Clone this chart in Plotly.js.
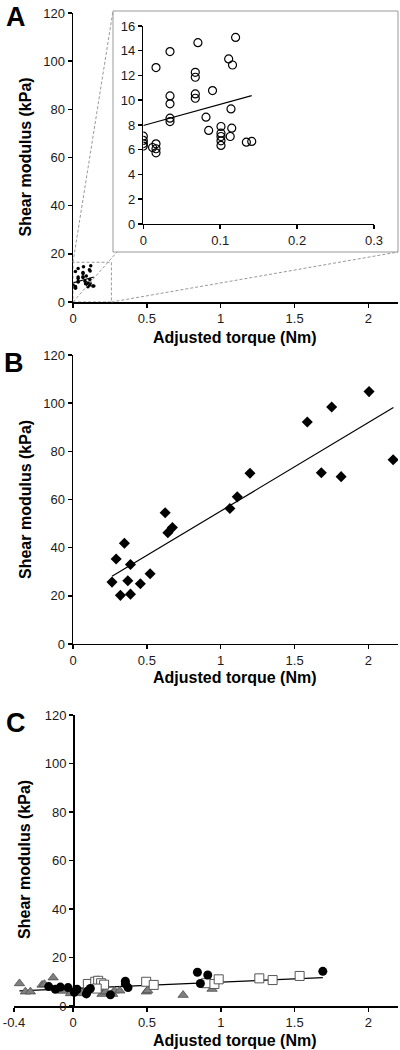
<!DOCTYPE html>
<html><head><meta charset="utf-8">
<script src="https://cdn.plot.ly/plotly-3.0.1.min.js"></script>
<style>html,body{margin:0;padding:0;background:#fff}#chart{width:400px;height:1050px}</style>
</head><body><div id="chart"></div>
<script>
// ---------- Panel A (data shown in main plot and in the zoomed inset) ----------
const aTorque  = [0, 0, 0, 0, 0.012, 0.0165, 0.0165, 0.0165, 0.0165, 0.0347, 0.0347, 0.0347, 0.0347, 0.0347,
                  0.0676, 0.0676, 0.0676, 0.0676, 0.071, 0.0815, 0.085, 0.090, 0.101, 0.101, 0.101, 0.101, 0.101,
                  0.111, 0.116, 0.120, 0.114, 0.115, 0.113, 0.134, 0.141];
const aModulus = [7.1, 6.75, 6.5, 6.3, 6.18, 6.48, 6.08, 5.75, 12.64, 13.93, 10.35, 9.71, 8.55, 8.28,
                  12.26, 11.86, 10.51, 10.16, 14.65, 8.63, 7.56, 10.78, 7.88, 7.34, 7.07, 6.72, 6.35,
                  13.34, 12.85, 15.08, 9.3, 7.74, 7.07, 6.61, 6.67];
const aFitX = [0, 0.141];
const aFitY = [7.96, 10.38];

// ---------- Panel B ----------
const bTorque  = [0.264, 0.292, 0.321, 0.348, 0.371, 0.389, 0.389, 0.456, 0.522, 0.624, 0.642, 0.673,
                  1.062, 1.112, 1.198, 1.586, 1.681, 1.751, 1.815, 2.004, 2.167];
const bModulus = [25.7, 35.3, 20.2, 41.8, 26.3, 33.0, 20.7, 25.0, 29.2, 54.5, 46.2, 48.4,
                  56.3, 61.1, 70.9, 92.2, 71.1, 98.4, 69.5, 104.8, 76.5];
const bFitX = [0.264, 2.169];
const bFitY = [28.1, 98.2];

// ---------- Panel C ----------
const cCircleX = [-0.165, -0.12, -0.086, -0.034, 0.009, 0.027, 0.09, 0.099, 0.117, 0.253, 0.354, 0.354, 0.372,
                  0.842, 0.862, 0.912, 1.691];
const cCircleY = [8.0, 6.9, 7.8, 7.6, 5.6, 6.9, 5.0, 6.2, 7.2, 4.6, 10.2, 9.1, 7.6, 13.9, 9.3, 12.8, 14.3];
const cSquareX = [0.10, 0.15, 0.17, 0.19, 0.21, 0.16, 0.495, 0.546, 0.90, 0.957, 0.986, 1.261, 1.351, 1.534];
const cSquareY = [9.1, 10.0, 10.4, 9.4, 8.8, 7.2, 10.0, 8.7, 9.4, 9.1, 11.0, 11.4, 10.7, 12.4];
const cTriX = [-0.363, -0.323, -0.289, -0.21, -0.194, -0.135, -0.068, -0.018, 0.068, 0.167, 0.19, 0.196,
               0.219, 0.268, 0.28, 0.316, 0.496, 0.505, 0.745, 0.941];
const cTriY = [9.3, 5.9, 5.9, 8.7, 9.0, 11.7, 6.2, 5.2, 5.2, 10.6, 7.3, 4.9, 5.9, 4.9, 6.3, 6.3, 5.9, 6.4, 4.5, 7.0];
const cFitX = [-0.363, 1.691];
const cFitY = [6.2, 11.7];

// ---------- ticks & labels ----------
const yTicks = [0, 20, 40, 60, 80, 100, 120];
const mainXTicks = [0, 0.5, 1, 1.5, 2];
const mainXText = ['0', '0.5', '1', '1.5', '2'];
const cXTicks = [-0.4, 0, 0.5, 1, 1.5, 2];
const cXText = ['-0.4', '0', '0.5', '1', '1.5', '2'];
const insetXTicks = [0, 0.1, 0.2, 0.3];
const insetXText = ['0', '0.1', '0.2', '0.3'];
const insetYTicks = [0, 2, 4, 6, 8, 10, 12, 14, 16];
const zoomBox = {x: [0, 0.26], y: [0, 16.5]};
const xTitle = 'Adjusted torque (Nm)';
const yTitle = 'Shear modulus (kPa)';
const panelLetters = ['A', 'B', 'C'];

// ---------- layout geometry ----------
const W = 400, H = 1050;
const domX = [0.1825, 0.995];
const domXC = [0.035, 0.995];
const rangeMain = [0, 2.2], rangeC = [-0.4, 2.2];
const domYA = [0.71238, 0.98762], domYB = [0.38667, 0.66190], domYC = [0.04190, 0.31905];
const domXIn = [0.3583, 0.935], domYIn = [0.78667, 0.97524];
const insetBox = {x0: 0.2825, x1: 0.995, y0: 0.76, y1: 0.98952};

const tickFont = {family: 'Liberation Sans, Arial, sans-serif', size: 13, color: '#1a1a1a'};
function ax(extra) {
  return Object.assign({
    showline: true, linecolor: '#000', linewidth: 1.5, mirror: false,
    ticks: 'outside', ticklen: 4, tickwidth: 1.5, tickcolor: '#000',
    showgrid: false, zeroline: false, tickfont: tickFont, fixedrange: true
  }, extra);
}

const dotLine = {color: '#000', width: 1.2};
const traces = [
  {x: aTorque, y: aModulus, xaxis: 'x', yaxis: 'y', mode: 'markers', type: 'scatter',
   marker: {symbol: 'circle', size: 3.5, color: '#000'}},
  {x: aFitX, y: aFitY, xaxis: 'x', yaxis: 'y', mode: 'lines', type: 'scatter', line: dotLine},
  {x: aTorque, y: aModulus, xaxis: 'x2', yaxis: 'y2', mode: 'markers', type: 'scatter',
   marker: {symbol: 'circle-open', size: 8, color: '#000', line: {width: 1.2, color: '#000'}}},
  {x: aFitX, y: aFitY, xaxis: 'x2', yaxis: 'y2', mode: 'lines', type: 'scatter', line: dotLine},
  {x: bTorque, y: bModulus, xaxis: 'x3', yaxis: 'y3', mode: 'markers', type: 'scatter',
   marker: {symbol: 'diamond', size: 8.5, color: '#000'}},
  {x: bFitX, y: bFitY, xaxis: 'x3', yaxis: 'y3', mode: 'lines', type: 'scatter', line: dotLine},
  {x: cFitX, y: cFitY, xaxis: 'x4', yaxis: 'y4', mode: 'lines', type: 'scatter', line: dotLine},
  {x: cTriX, y: cTriY, xaxis: 'x4', yaxis: 'y4', mode: 'markers', type: 'scatter', cliponaxis: false,
   marker: {symbol: 'triangle-up', size: 9, color: '#7f7f7f', line: {color: '#4d4d4d', width: 0.8}}},
  {x: cSquareX, y: cSquareY, xaxis: 'x4', yaxis: 'y4', mode: 'markers', type: 'scatter', cliponaxis: false,
   marker: {symbol: 'square', size: 9, color: '#fff', line: {color: '#555', width: 1}}},
  {x: cCircleX, y: cCircleY, xaxis: 'x4', yaxis: 'y4', mode: 'markers', type: 'scatter', cliponaxis: false,
   marker: {symbol: 'circle', size: 9, color: '#000'}}
];

// paper coordinates of the zoom box corners (through panel A's scales)
function px(v) { return domX[0] + (v - rangeMain[0]) / (rangeMain[1] - rangeMain[0]) * (domX[1] - domX[0]); }
function py(v) { return domYA[0] + (v - 0) / 120 * (domYA[1] - domYA[0]); }
const bx0 = px(zoomBox.x[0]), bx1 = px(zoomBox.x[1]), by0 = py(zoomBox.y[0]), by1 = py(zoomBox.y[1]);
const dash = {color: '#999', width: 1, dash: '3px,2px'};
const shapes = [
  {type: 'rect', xref: 'paper', yref: 'paper', x0: insetBox.x0, x1: insetBox.x1, y0: insetBox.y0, y1: insetBox.y1,
   line: {color: '#999', width: 1}, fillcolor: '#fff', layer: 'below'},
  {type: 'rect', xref: 'x', yref: 'y', x0: zoomBox.x[0], x1: zoomBox.x[1], y0: zoomBox.y[0], y1: zoomBox.y[1], line: dash},
  {type: 'line', xref: 'paper', yref: 'paper', x0: bx0, y0: by1, x1: insetBox.x0, y1: insetBox.y1, line: dash},
  {type: 'line', xref: 'paper', yref: 'paper', x0: bx0, y0: by0, x1: insetBox.x0 + 0.01, y1: insetBox.y0, line: dash},
  {type: 'line', xref: 'paper', yref: 'paper', x0: bx1, y0: by0, x1: insetBox.x1, y1: insetBox.y0, line: dash}
];

const titleFont = {family: 'Liberation Sans, Arial, sans-serif', size: 16, color: '#000', weight: 'bold'};
const letterFont = {family: 'Liberation Sans, Arial, sans-serif', size: 27, color: '#000', weight: 'bold'};
const b = s => '<b>' + s + '</b>';
const xTitleY = [0.6781, 0.3543, 0.0095];
const yTitleY = [0.85, 0.5238, 0.181];
const letterPos = [[0.04, 0.9995], [0.035, 0.6695], [0.04, 0.3267]];
const annotations = [];
for (let i = 0; i < 3; i++) {
  annotations.push({xref: 'paper', yref: 'paper', x: 0.5875, y: xTitleY[i], text: b(xTitle), showarrow: false,
                    xanchor: 'center', yanchor: 'middle', font: titleFont});
  annotations.push({xref: 'paper', yref: 'paper', x: 0.0625, y: yTitleY[i], text: b(yTitle), showarrow: false,
                    textangle: -90, xanchor: 'center', yanchor: 'middle', font: titleFont});
  annotations.push({xref: 'paper', yref: 'paper', x: letterPos[i][0], y: letterPos[i][1], text: b(panelLetters[i]),
                    showarrow: false, xanchor: 'center', yanchor: 'top', borderpad: 0, font: letterFont});
}

const layout = {
  width: W, height: H, margin: {l: 0, r: 0, t: 0, b: 0},
  paper_bgcolor: '#fff', plot_bgcolor: 'rgba(0,0,0,0)', showlegend: false,
  xaxis: ax({domain: domX, range: rangeMain, anchor: 'y', tickvals: mainXTicks, ticktext: mainXText}),
  yaxis: ax({domain: domYA, range: [0, 120], anchor: 'x', tickvals: yTicks}),
  xaxis2: ax({domain: domXIn, range: [0, 0.3], anchor: 'y2', tickvals: insetXTicks, ticktext: insetXText}),
  yaxis2: ax({domain: domYIn, range: [0, 16], anchor: 'x2', tickvals: insetYTicks}),
  xaxis3: ax({domain: domX, range: rangeMain, anchor: 'y3', tickvals: mainXTicks, ticktext: mainXText}),
  yaxis3: ax({domain: domYB, range: [0, 120], anchor: 'x3', tickvals: yTicks}),
  xaxis4: ax({domain: domXC, range: rangeC, anchor: 'y4', tickvals: cXTicks, ticktext: cXText}),
  yaxis4: ax({domain: domYC, range: [0, 120], anchor: 'free',
              position: domXC[0] + (0 - rangeC[0]) / (rangeC[1] - rangeC[0]) * (domXC[1] - domXC[0]), tickvals: yTicks}),
  shapes: shapes, annotations: annotations
};

Plotly.newPlot('chart', traces, layout, {staticPlot: true, displayModeBar: false});
</script></body></html>
